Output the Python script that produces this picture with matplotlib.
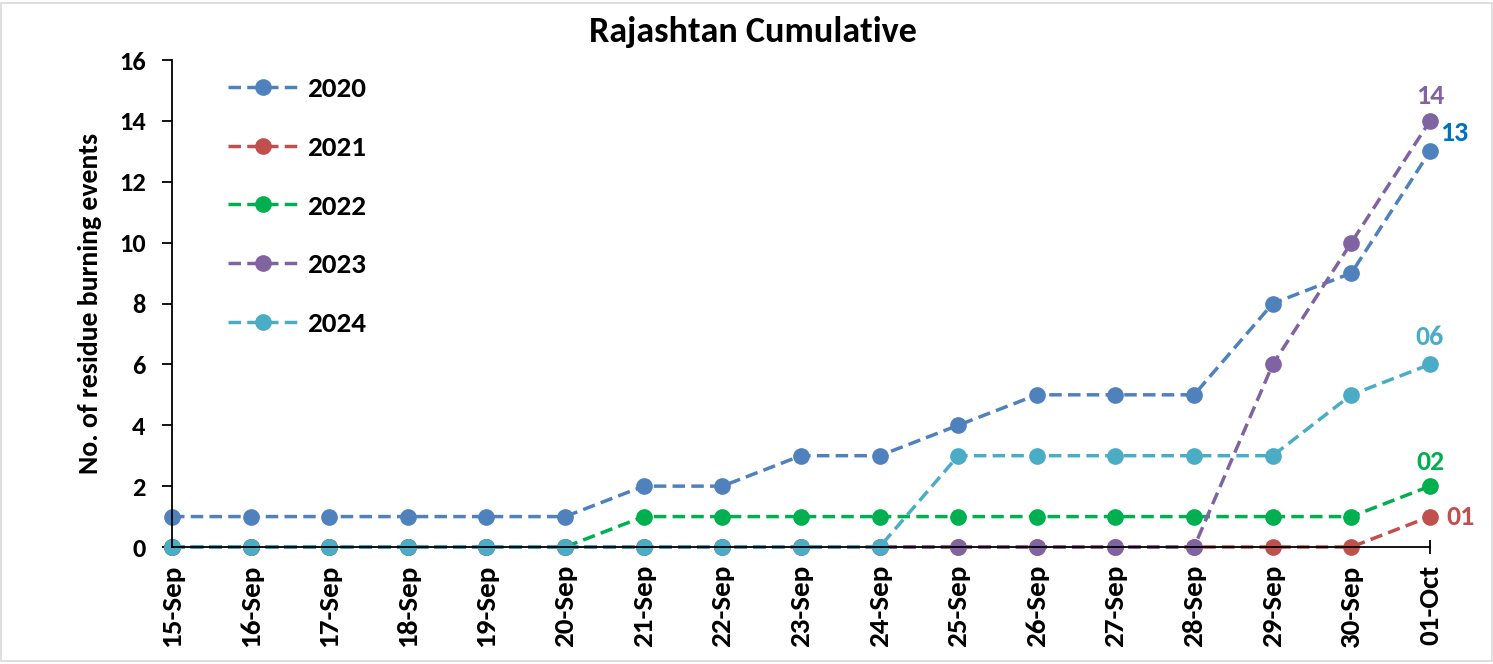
import matplotlib.pyplot as plt
import matplotlib.font_manager as fm
from matplotlib.patches import Rectangle

# pick a family that really has a bold face installed
bold_fams = {f.name for f in fm.fontManager.ttflist
             if (f.weight if isinstance(f.weight, int) else 700 if 'bold' in str(f.weight) else 400) >= 700}
fam = 'DejaVu Sans'
for cand in ['Carlito', 'Lato', 'Open Sans', 'Noto Sans', 'Liberation Sans', 'Roboto']:
    if cand in bold_fams:
        fam = cand
        break
plt.rcParams['font.family'] = [fam, 'DejaVu Sans']
plt.rcParams['font.weight'] = 'bold'

dates = ['15-Sep', '16-Sep', '17-Sep', '18-Sep', '19-Sep', '20-Sep', '21-Sep', '22-Sep',
         '23-Sep', '24-Sep', '25-Sep', '26-Sep', '27-Sep', '28-Sep', '29-Sep', '30-Sep', '01-Oct']
y2020 = [1, 1, 1, 1, 1, 1, 2, 2, 3, 3, 4, 5, 5, 5, 8, 9, 13]
y2021 = [0, 0, 0, 0, 0, 0, 0, 0, 0, 0, 0, 0, 0, 0, 0, 0, 1]
y2022 = [0, 0, 0, 0, 0, 0, 1, 1, 1, 1, 1, 1, 1, 1, 1, 1, 2]
y2023 = [0, 0, 0, 0, 0, 0, 0, 0, 0, 0, 0, 0, 0, 0, 6, 10, 14]
y2024 = [0, 0, 0, 0, 0, 0, 0, 0, 0, 0, 3, 3, 3, 3, 3, 5, 6]

series = [('2020', y2020, '#4F81BD'), ('2021', y2021, '#C0504D'), ('2022', y2022, '#00B050'),
          ('2023', y2023, '#8064A2'), ('2024', y2024, '#4BACC6')]

fig = plt.figure(figsize=(14.93, 6.64), dpi=100)
ax = fig.add_axes([0.1152, 0.1762, 0.8426, 0.7334])

x = list(range(len(dates)))
for name, vals, col in series:
    ax.plot(x, vals, linestyle=(0, (3.6, 1.8)), lw=2.5, color=col, marker='o', markersize=11,
            label=name, clip_on=False)

# end labels
last = len(dates) - 1
lab_fs = 20
ax.annotate('14', (last, y2023[-1]), xytext=(0, 9), textcoords='offset points',
            ha='center', va='bottom', color='#8064A2', fontsize=lab_fs, fontweight='bold')
ax.annotate('13', (last, y2020[-1]), xytext=(7, 13), textcoords='offset points',
            ha='left', va='center', color='#0070C0', fontsize=lab_fs, fontweight='bold')
ax.annotate('06', (last, y2024[-1]), xytext=(0, 11), textcoords='offset points',
            ha='center', va='bottom', color='#4BACC6', fontsize=lab_fs, fontweight='bold')
ax.annotate('02', (last, y2022[-1]), xytext=(0, 9), textcoords='offset points',
            ha='center', va='bottom', color='#00B050', fontsize=lab_fs, fontweight='bold')
ax.annotate('01', (last, y2021[-1]), xytext=(12, 0), textcoords='offset points',
            ha='left', va='center', color='#C0504D', fontsize=lab_fs, fontweight='bold')

ax.set_xlim(0, last)
ax.set_ylim(0, 16)
ax.set_yticks(range(0, 17, 2))
ax.set_xticks(x)
ax.set_xticklabels(dates, rotation=90, fontsize=21, fontweight='bold')
ax.tick_params(axis='y', labelsize=19, length=7, width=1.3, direction='out', pad=12)
ax.tick_params(axis='x', length=10, width=1.3, direction='inout', pad=8)
for lab in ax.get_yticklabels():
    lab.set_fontweight('bold')

ax.spines['top'].set_visible(False)
ax.spines['right'].set_visible(False)
ax.spines['left'].set_linewidth(1.3)
ax.spines['bottom'].set_linewidth(1.3)

ax.set_ylabel('No. of residue burning events', fontsize=20, fontweight='bold', labelpad=12)
fig.text(0.504, 0.952, 'Rajashtan Cumulative', fontsize=26, fontweight='bold',
         ha='center', va='center')

ax.legend(loc='upper left', bbox_to_anchor=(0.0445, 0.966), frameon=False,
          borderaxespad=0, borderpad=0, labelspacing=1.18, handlelength=2.4,
          handletextpad=0.3, prop={'weight': 'bold', 'size': 21})

fig.patches.append(Rectangle((0.001, 0.004), 0.998, 0.992, transform=fig.transFigure,
                             fill=False, edgecolor='#D9D9D9', lw=1.2))

fig.savefig('out.png', dpi=100)
